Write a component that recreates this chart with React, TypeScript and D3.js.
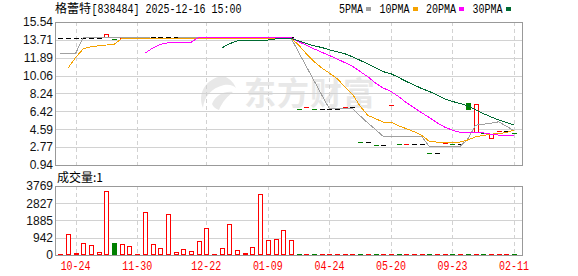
import React from "react";
import * as d3 from "d3";

// ---------- data ----------
const stockName = "格蕾特";
const titleRest = "[838484] 2025-12-16 15:00";
const volumeLabel = "成交量:1";
const maNames = ["5PMA", "10PMA", "20PMA", "30PMA"];
const watermarkText = "东方财富";

const priceTicks = [15.54, 13.71, 11.89, 10.06, 8.24, 6.42, 4.59, 2.77, 0.94];
const volumeTicks = [3769, 2827, 1885, 942, 0];
const xTickLabels = ["10-24", "11-30", "12-22", "01-09", "04-24", "05-20", "09-23", "02-11"];
const xTickIndex = [2, 10, 19, 27, 35, 43, 51, 59];

const opens = [
  13.88, 13.88, 13.88, 13.88, 13.88, 13.88, 14.0, 13.8, 13.88, 13.88,
  13.88, 14.0, 14.0, 14.0, 14.0, 14.0, 14.0, 14.0, 14.0, 14.0,
  14.0, 14.0, 14.0, 14.0, 14.0, 14.0, 14.0, 14.0, 14.0, 14.0,
  14.0, 6.63, 6.83, 6.63, 6.63, 6.63, 6.63, 6.83, 6.83, 3.26,
  3.26, 2.96, 2.96, 7.04, 3.06, 3.12, 3.12, 3.12, 2.17, 2.17,
  3.16, 3.1, 3.1, 7.24, 4.29, 4.24, 3.68, 4.39, 4.39, 4.18,
];
const closes = [
  13.88, 13.88, 13.88, 13.88, 13.88, 13.88, 14.34, 13.8, 13.88, 13.88,
  13.88, 14.0, 14.0, 14.0, 14.0, 14.0, 14.0, 14.0, 14.0, 14.0,
  14.0, 14.0, 14.0, 14.0, 14.0, 14.0, 14.0, 14.0, 14.0, 14.0,
  14.0, 6.63, 6.83, 6.63, 6.63, 6.63, 6.63, 6.83, 6.83, 3.26,
  3.26, 2.96, 2.96, 7.04, 3.06, 3.12, 3.12, 3.12, 2.17, 2.17,
  3.16, 3.1, 3.1, 6.69, 7.19, 4.24, 4.06, 4.39, 4.39, 4.18,
];
const volumes = [
  55, 1150, 110, 655, 546, 164, 3495, 672, 600, 491,
  55, 2348, 600, 382, 2239, 164, 328, 218, 764, 1460,
  55, 380, 1690, 270, 110, 440, 3330, 820, 870, 1360,
  820, 40, 45, 38, 42, 50, 35, 44, 40, 48,
  36, 41, 47, 39, 43, 37, 45, 40, 42, 38,
  46, 44, 39, 41, 37, 45, 43, 40, 38, 42,
];
const ma5 = [
  12.35, 12.35, 12.35, 13.95, 13.95, 13.95, 13.95, 13.95, 13.95, 13.95,
  13.95, 13.92, 13.9, 13.9, 13.9, 13.9, 13.92, 13.92, 13.92, 13.92,
  13.92, 13.92, 13.92, 13.92, 13.92, 13.92, 13.92, 13.92, 13.92, 13.92,
  13.92, 12.45, 11.0, 9.55, 8.1, 6.67, 6.67, 6.67, 6.7, 5.95,
  5.23, 4.56, 3.86, 3.86, 3.86, 3.86, 3.86, 3.86, 2.82, 2.82,
  2.82, 2.82, 2.82, 3.6, 5.0, 5.1, 5.2, 5.35, 4.9, 4.45,
];
const ma10 = [
  null, 10.82, 11.92, 12.8, 13.02, 13.11, 13.19, 13.26, 13.86, 13.88,
  13.88, 13.88, 13.88, 13.88, 13.88, 13.88, 13.88, 13.88, 13.88, 13.88,
  13.88, 13.88, 13.88, 13.88, 13.88, 13.88, 13.88, 13.88, 13.88, 13.88,
  13.9, 13.19, 12.3, 11.5, 10.85, 10.32, 9.75, 8.95, 8.17, 6.95,
  6.01, 5.67, 5.32, 5.31, 4.94, 4.65, 4.35, 3.98, 3.35, 3.28,
  3.27, 3.28, 3.28, 3.5, 3.81, 3.96, 4.08, 4.16, 4.24, 4.52,
];
const ma20 = [
  null, null, null, null, null, null, null, null, null, null,
  null, 12.35, 12.86, 13.25, 13.42, 13.47, 13.47, 13.47, 13.97, 13.97,
  13.97, 13.97, 13.97, 13.97, 13.97, 13.97, 13.97, 13.97, 13.97, 13.97,
  13.95, 13.54, 13.16, 12.8, 12.45, 12.12, 11.77, 11.4, 11.03, 10.48,
  9.95, 9.3, 8.8, 8.46, 7.92, 7.32, 6.8, 6.28, 5.79, 5.25,
  4.8, 4.5, 4.27, 4.25, 4.26, 4.22, 4.09, 4.0, 3.98, 3.95,
];
const ma30 = [
  null, null, null, null, null, null, null, null, null, null,
  null, null, null, null, null, null, null, null, null, null,
  null, 12.89, 13.32, 13.6, 13.68, 13.7, 13.7, 13.7, 13.81, 13.84,
  13.88, 13.62, 13.35, 13.11, 12.94, 12.7, 12.5, 12.3, 11.99, 11.63,
  11.25, 10.85, 10.47, 10.26, 9.88, 9.47, 9.11, 8.75, 8.45, 8.09,
  7.68, 7.43, 7.22, 6.97, 6.56, 6.2, 5.85, 5.54, 5.28, 5.03,
];
const maSeries = [ma5, ma10, ma20, ma30];

// ---------- style ----------
const W = 578;
const H = 276;
const LEFT = 55;
const RIGHT = 522;
const MAIN_TOP = 22;
const MAIN_BOTTOM = 165;
const VOL_TOP = 186;
const VOL_BOTTOM = 255;
const RED = "#ff0000";
const GREEN = "#008000";
const BLACK = "#000000";
const MA_COLORS = ["#a0a0a0", "#f5a200", "#ff00ff", "#006a33"];
const GRID = "#d2d2d2";
const FRAME = "#999999";
const MONO = "'Liberation Mono', 'DejaVu Sans Mono', monospace";
const SANS = "'Liberation Sans', Arial, sans-serif";
const CJK = "'Noto Sans CJK SC', sans-serif";

export default function App() {
  const n = closes.length;
  const x = d3.scaleBand<number>().domain(d3.range(n)).range([56.4, 517.8]);
  const cxf = (i: number) => (x(i) as number) + x.bandwidth() / 2;
  const cx = (i: number) => Math.round(cxf(i));
  const y = d3.scaleLinear().domain([0.94, 15.54]).range([MAIN_BOTTOM, MAIN_TOP]);
  const yv = d3.scaleLinear().domain([0, 3769]).range([VOL_BOTTOM, VOL_TOP]);
  const px = (v: number) => Math.round(v) + 0.5;

  const candleColor = (i: number) => {
    const o = opens[i];
    const c = closes[i];
    if (c > o) return RED;
    if (c < o) return GREEN;
    const p = i > 0 ? closes[i - 1] : c;
    if (c > p) return RED;
    if (c < p) return GREEN;
    return BLACK;
  };

  const line = d3
    .line<number | null>()
    .defined((d) => d != null)
    .x((_, i) => cxf(i))
    .y((d) => y(d as number));

  // legend layout
  const legendItems: { name: string; tx: number; sx: number; color: string }[] = [];
  let lx = 339;
  maNames.forEach((name, k) => {
    const w = name.length * 6;
    const sx = lx + w + 3;
    legendItems.push({ name, tx: lx, sx, color: MA_COLORS[k] });
    lx = sx + 5 + 8.5;
  });

  return (
    <svg
      width={W}
      height={H}
      viewBox={`0 0 ${W} ${H}`}
      style={{ position: "absolute", left: 0, top: 0, background: "#fff" }}
    >
      <rect x={0} y={0} width={W} height={H} fill="#fff" />

      {/* watermark */}
      <g fill="#e8e8e8">
        <path d="M 222 76 C 206 79, 197 93, 203 108 C 204 97, 211 88, 224 85 C 230 84, 234 86, 236 88 C 233 81, 228 77, 222 76 Z" />
        <path d="M 212 104 C 216 95, 224 91, 233 92 C 228 96, 222 102, 219 110 C 216 109, 213 107, 212 104 Z" />
        <text x={244} y={105} fontFamily={CJK} fontSize={32} fontWeight={700} letterSpacing={1}>
          {watermarkText}
        </text>
      </g>

      {/* main grid */}
      <g shapeRendering="crispEdges">
        {priceTicks.map((t) => (
          <line key={"pg" + t} x1={LEFT} x2={RIGHT} y1={px(y(t))} y2={px(y(t))} stroke={GRID} />
        ))}
        {volumeTicks.map((t) => (
          <line key={"vg" + t} x1={LEFT} x2={RIGHT} y1={px(yv(t))} y2={px(yv(t))} stroke={GRID} />
        ))}
        {xTickIndex.map((i) => (
          <g key={"xv" + i}>
            <line x1={px(cxf(i))} x2={px(cxf(i))} y1={MAIN_TOP} y2={MAIN_BOTTOM} stroke={GRID} strokeDasharray="4,3" />
            <line x1={px(cxf(i))} x2={px(cxf(i))} y1={VOL_TOP} y2={VOL_BOTTOM} stroke={GRID} strokeDasharray="4,3" />
          </g>
        ))}
      </g>

      {/* candles */}
      <g shapeRendering="crispEdges">
        {closes.map((c, i) => {
          const o = opens[i];
          const col = candleColor(i);
          const X = cx(i);
          if (o === c) {
            return <line key={"c" + i} x1={X - 2} x2={X + 3} y1={px(y(c))} y2={px(y(c))} stroke={col} />;
          }
          if (c > o) {
            const top = Math.round(y(c));
            const bot = Math.round(y(o));
            return (
              <rect key={"c" + i} x={X - 1.5} y={top + 0.5} width={4} height={Math.max(1, bot - top)} fill="#fff" stroke={RED} />
            );
          }
          const top = Math.round(y(o));
          const bot = Math.round(y(c));
          return <rect key={"c" + i} x={X - 2} y={top} width={5} height={bot - top + 1} fill={GREEN} />;
        })}
      </g>

      {/* moving averages */}
      <g fill="none" shapeRendering="crispEdges">
        {maSeries.map((s, k) => (
          <path key={"ma" + k} d={line(s) || ""} stroke={MA_COLORS[k]} strokeWidth={1} />
        ))}
      </g>

      {/* volume bars */}
      <g shapeRendering="crispEdges">
        {volumes.map((v, i) => {
          const X = cx(i);
          const col = candleColor(i) === GREEN ? GREEN : RED;
          const top = Math.min(VOL_BOTTOM - 1, Math.round(yv(v)));
          const h = VOL_BOTTOM - top;
          if (col === GREEN || h <= 2) {
            return <rect key={"v" + i} x={X - 2} y={top} width={5} height={h} fill={col} />;
          }
          return (
            <rect key={"v" + i} x={X - 1.5} y={top + 0.5} width={4} height={h - 1} fill="#fff" stroke={RED} />
          );
        })}
      </g>

      {/* frames */}
      <g fill="none" stroke={FRAME} shapeRendering="crispEdges">
        <rect x={LEFT + 0.5} y={MAIN_TOP + 0.5} width={RIGHT - LEFT} height={MAIN_BOTTOM - MAIN_TOP} />
        <rect x={LEFT + 0.5} y={VOL_TOP + 0.5} width={RIGHT - LEFT} height={VOL_BOTTOM - VOL_TOP} />
      </g>

      {/* y labels */}
      <g fontFamily={SANS} fontSize={12} fill="#111" textAnchor="end">
        {priceTicks.map((t) => (
          <text key={"pl" + t} x={53} y={y(t) + 4.3}>
            {t.toFixed(2)}
          </text>
        ))}
        {volumeTicks.map((t) => (
          <text key={"vl" + t} x={53} y={yv(t) + 4.3}>
            {t}
          </text>
        ))}
      </g>

      {/* x labels */}
      <g fontFamily={MONO} fontSize={12} fill={RED} textAnchor="middle">
        {xTickIndex.map((i, k) => (
          <text key={"xl" + i} x={cxf(i)} y={270} textLength={30} lengthAdjust="spacingAndGlyphs">
            {xTickLabels[k]}
          </text>
        ))}
      </g>

      {/* title */}
      <text x={55} y={13} fontFamily={CJK} fontSize={12} fill="#000">
        {stockName}
      </text>
      <text x={91.5} y={13} fontFamily={MONO} fontSize={12} fill="#000" textLength={titleRest.length * 6} lengthAdjust="spacingAndGlyphs">
        {titleRest}
      </text>

      {/* legend */}
      {legendItems.map((it) => (
        <g key={it.name}>
          <text x={it.tx} y={13} fontFamily={MONO} fontSize={12} fill="#000" textLength={it.name.length * 6} lengthAdjust="spacingAndGlyphs">
            {it.name}
          </text>
          <rect x={it.sx} y={7} width={5} height={4} fill={it.color} shapeRendering="crispEdges" />
        </g>
      ))}

      {/* volume label */}
      <text x={57} y={182} fontFamily={CJK} fontSize={12} fill="#000">
        {volumeLabel}
      </text>
    </svg>
  );
}
